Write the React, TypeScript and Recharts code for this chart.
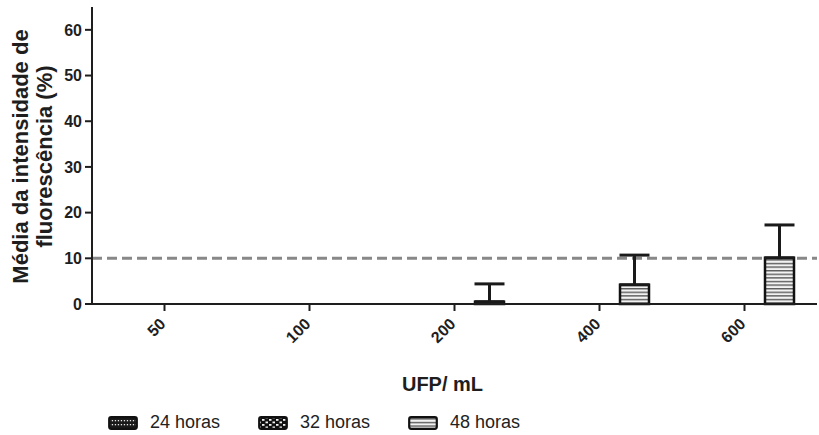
import React from 'react';
import {
  BarChart, Bar, XAxis, YAxis, ReferenceLine, ErrorBar,
} from 'recharts';

const categories = ['50', '100', '200', '400', '600'];
const h24 = [0, 0, 0, 0, 0];
const h32 = [0, 0, 0, 0, 0];
const h48 = [0, 0, 0.5, 4.2, 10.1];
const h48Err = [0, 0, 3.9, 6.5, 7.2];
const yTicks = [0, 10, 20, 30, 40, 50, 60];
const legendItems = ['24 horas', '32 horas', '48 horas'];
const cutoff = 10;

const data = categories.map((c, i) => ({
  ufp: c,
  h24: h24[i],
  h32: h32[i],
  h48: h48[i],
  err48: [0, h48Err[i]],
}));

const FONT = '"Liberation Sans", Arial, sans-serif';
const INK = '#1e1e1e';

// fills shared by bars and legend swatches
const PatternDefs = ({ prefix }: { prefix: string }) => (
  <defs>
    <pattern id={`${prefix}24`} width="3" height="4" patternUnits="userSpaceOnUse">
      <rect width="3" height="4" fill="#1a1a1a" />
      <rect x="0.8" y="1" width="1.3" height="1.3" fill="#e6e6e6" />
    </pattern>
    <pattern id={`${prefix}32`} width="7" height="5" patternUnits="userSpaceOnUse">
      <rect width="7" height="5" fill="#111" />
      <rect x="0.5" y="0.5" width="2.5" height="1.8" fill="#f4f4f4" />
      <rect x="4" y="3" width="2.5" height="1.8" fill="#f4f4f4" />
    </pattern>
    <pattern id={`${prefix}48`} width="4" height="3.6" patternUnits="userSpaceOnUse">
      <rect width="4" height="3.6" fill="#f2f2f2" />
      <rect y="0" width="4" height="1.4" fill="#5a5a5a" />
    </pattern>
  </defs>
);

const XTick = ({ x, y, payload }: any) => (
  <text
    x={x + 2}
    y={y + 12}
    transform={`rotate(-45 ${x + 2} ${y + 12})`}
    textAnchor="end"
    fontFamily={FONT}
    fontWeight="bold"
    fontSize={16}
    fill={INK}
  >
    {payload.value}
  </text>
);

const YLabel = ({ viewBox }: any) => {
  const cy = viewBox.y + viewBox.height / 2 + 1;
  return (
    <g fontFamily={FONT} fontWeight="bold" fontSize={22} fill={INK}>
      <text x={28} y={cy} textAnchor="middle" transform={`rotate(-90 28 ${cy})`}>
        Média da intensidade de
      </text>
      <text x={52} y={cy} textAnchor="middle" transform={`rotate(-90 52 ${cy})`}>
        fluorescência (%)
      </text>
    </g>
  );
};

const XLabel = ({ viewBox }: any) => (
  <text
    x={viewBox.x + viewBox.width / 2 - 12}
    y={391}
    textAnchor="middle"
    fontFamily={FONT}
    fontWeight="bold"
    fontSize={20}
    fill={INK}
  >
    UFP/ mL
  </text>
);

const swatchIds = ['lg24', 'lg32', 'lg48'];

const LegendBox = () => (
  <div style={{ position: 'absolute', left: 0, top: 0, width: 819, height: 435, pointerEvents: 'none' }}>
    <svg width={0} height={0} style={{ position: 'absolute' }}>
      <PatternDefs prefix="lg" />
    </svg>
    {legendItems.map((t, i) => (
      <div key={t} style={{ position: 'absolute', left: 108 + i * 150, top: 411, display: 'flex', alignItems: 'center' }}>
        <svg width={30} height={22}>
          <rect x={1.2} y={6.2} width={27.6} height={11.6} rx={2} fill={`url(#${swatchIds[i]})`} stroke="#111" strokeWidth={2.2} />
        </svg>
        <span style={{ marginLeft: 12, fontFamily: FONT, fontSize: 18, color: '#222', lineHeight: '22px' }}>{t}</span>
      </div>
    ))}
  </div>
);

export default function App() {
  return (
    <div style={{ position: 'fixed', left: 0, top: 0, width: 819, height: 435, background: '#fff' }}>
      <BarChart
        width={819}
        height={435}
        data={data}
        margin={{ top: 7, right: 2, left: 0, bottom: 0 }}
        barSize={29}
        barGap={6}
      >
        <PatternDefs prefix="p" />
        <XAxis
          dataKey="ufp"
          height={131}
          interval={0}
          tick={<XTick />}
          tickSize={7}
          axisLine={{ stroke: INK, strokeWidth: 2 }}
          tickLine={{ stroke: INK, strokeWidth: 2 }}
          label={<XLabel />}
        />
        <YAxis
          width={92}
          domain={[0, 65]}
          ticks={yTicks}
          interval={0}
          tickSize={7}
          tickMargin={3}
          tick={{ fontFamily: FONT, fontWeight: 'bold', fontSize: 16, fill: INK }}
          axisLine={{ stroke: INK, strokeWidth: 2 }}
          tickLine={{ stroke: INK, strokeWidth: 2 }}
          label={<YLabel />}
        />
        <ReferenceLine y={cutoff} stroke="#888" strokeWidth={3} strokeDasharray="10 5" />
        <Bar dataKey="h24" name="24 horas" fill="url(#p24)" stroke="#111" strokeWidth={2.5} isAnimationActive={false} />
        <Bar dataKey="h32" name="32 horas" fill="url(#p32)" stroke="#111" strokeWidth={2.5} isAnimationActive={false} />
        <Bar dataKey="h48" name="48 horas" fill="url(#p48)" stroke="#111" strokeWidth={2.5} isAnimationActive={false}>
          <ErrorBar dataKey="err48" width={15} stroke="#1a1a1a" strokeWidth={3} direction="y" />
        </Bar>
      </BarChart>
      <LegendBox />
    </div>
  );
}
